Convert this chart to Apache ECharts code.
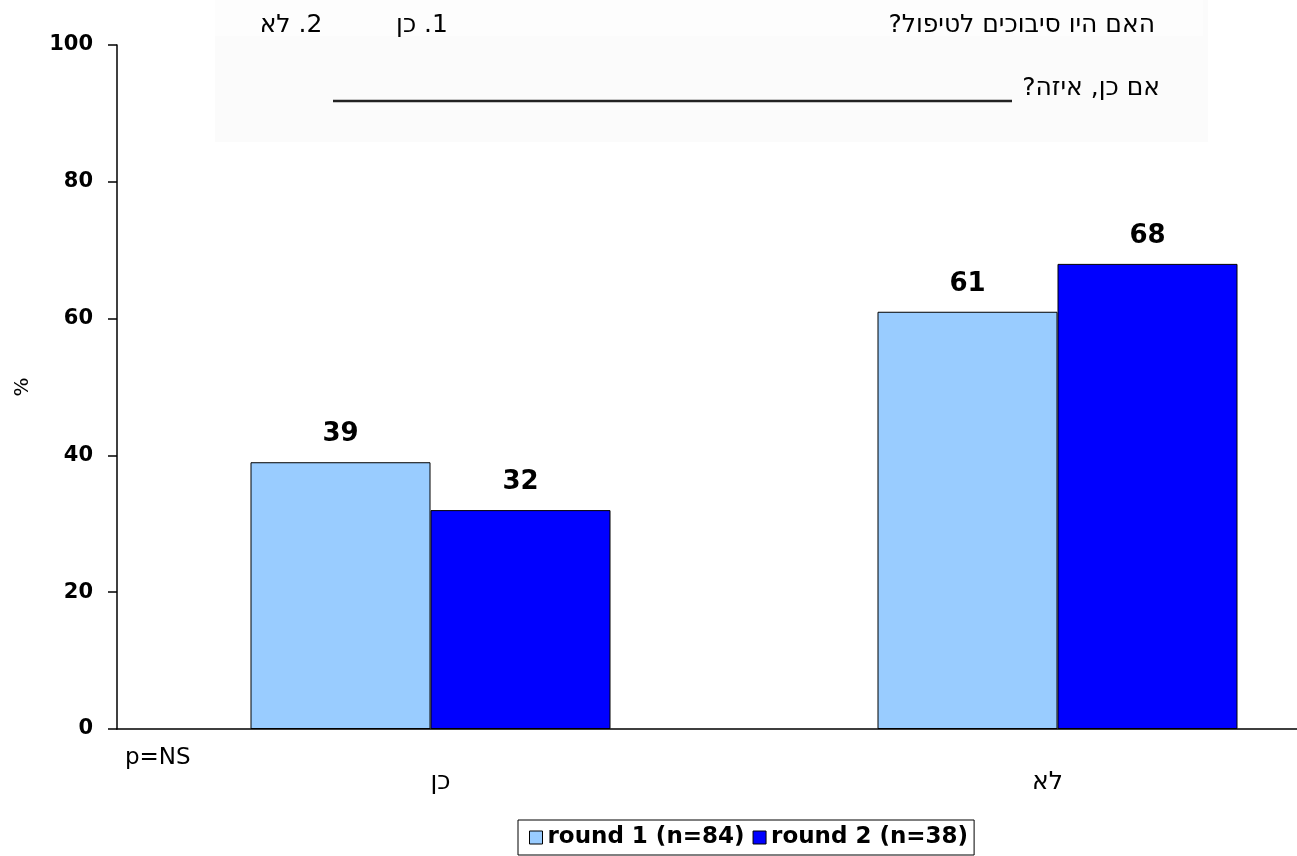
<!DOCTYPE html>
<html>
<head>
<meta charset="utf-8">
<script src="https://cdn.jsdelivr.net/npm/echarts@6/dist/echarts.min.js"></script>
<style>
html,body{margin:0;padding:0;background:#fff;}
#chart{width:1297px;height:856px;}
</style>
</head>
<body>
<div id="chart"></div>
<script>
// ---- data ----
const categories = ['כן', 'לא'];
const seriesNames = ['round 1 (n=84)', 'round 2 (n=38)'];
const round1 = [39, 61];
const round2 = [32, 68];
const yMin = 0, yMax = 100, yStep = 20;
const yAxisName = '%';
const questionText = 'האם היו סיבוכים לטיפול?';
const option1Text = '1. כן';
const option2Text = '2. לא';
const followUpText = 'אם כן, איזה?';
const pValueText = 'p=NS';

// ---- helpers ----
const RLE = '\u202B', PDF = '\u202C';
const rtl = s => RLE + s + PDF;
const FONT = 'DejaVu Sans';
const labelShift = [[0, 0, 0, 20], [0, 20, 0, 0]];

const chart = echarts.init(document.getElementById('chart'), null, {renderer: 'canvas'});

const option = {
  backgroundColor: '#ffffff',
  animation: false,
  textStyle: {fontFamily: FONT},
  grid: {left: 117, top: 45, width: 1254, height: 684, containLabel: false, outerBoundsMode: 'none'},
  legend: {
    data: seriesNames,
    left: 518,
    top: 820,
    orient: 'horizontal',
    icon: 'rect',
    itemWidth: 13,
    itemHeight: 13,
    itemGap: 8,
    padding: [6, 6, 6, 11],
    borderColor: '#000',
    borderWidth: 1,
    backgroundColor: '#fff',
    selectedMode: false,
    itemStyle: {borderColor: '#000', borderWidth: 1},
    textStyle: {fontFamily: FONT, fontSize: 23, fontWeight: 'bold', color: '#000', width: 190, padding: [2, 0, 0, 0]}
  },
  xAxis: {
    type: 'category',
    data: categories.map((c, i) => ({value: c, textStyle: {padding: labelShift[i]}})),
    axisLine: {show: true, lineStyle: {color: '#000', width: 1.5}},
    axisTick: {show: false},
    axisLabel: {margin: 41, fontFamily: FONT, fontSize: 25, color: '#000'},
    splitLine: {show: false}
  },
  yAxis: {
    type: 'value',
    min: yMin, max: yMax, interval: yStep,
    name: yAxisName,
    nameLocation: 'middle',
    nameRotate: 90,
    nameGap: 84,
    nameTextStyle: {fontFamily: FONT, fontSize: 20, color: '#000'},
    axisLine: {show: true, lineStyle: {color: '#000', width: 1.5}},
    axisTick: {show: true, inside: false, length: 9, lineStyle: {color: '#000', width: 1.5}},
    axisLabel: {margin: 24, fontFamily: FONT, fontSize: 21, fontWeight: 'bold', color: '#000'},
    splitLine: {show: false}
  },
  series: [
    {
      name: seriesNames[0], type: 'bar', data: round1,
      barWidth: 180, barGap: '0%',
      itemStyle: {color: '#99ccff', borderColor: '#000', borderWidth: 1},
      label: {show: true, position: 'top', distance: 15, fontFamily: FONT, fontSize: 26, fontWeight: 'bold', color: '#000'}
    },
    {
      name: seriesNames[1], type: 'bar', data: round2,
      barWidth: 180, barGap: '0%',
      itemStyle: {color: '#0000ff', borderColor: '#000', borderWidth: 1},
      label: {show: true, position: 'top', distance: 15, fontFamily: FONT, fontSize: 26, fontWeight: 'bold', color: '#000'}
    }
  ],
  graphic: [
    {type: 'rect', z: -10, shape: {x: 215, y: 0, width: 993, height: 142}, style: {fill: '#fbfbfb'}, silent: true},
    {type: 'rect', z: -9, shape: {x: 215, y: 0, width: 988, height: 36}, style: {fill: '#fdfdfd'}, silent: true},
    {type: 'text', style: {text: rtl(questionText), x: 1155, y: 25, textAlign: 'right', textVerticalAlign: 'middle', font: '25px "DejaVu Sans"', fill: '#000'}},
    {type: 'text', style: {text: rtl(option1Text), x: 422, y: 25, textAlign: 'center', textVerticalAlign: 'middle', font: '25px "DejaVu Sans"', fill: '#000'}},
    {type: 'text', style: {text: rtl(option2Text), x: 291, y: 25, textAlign: 'center', textVerticalAlign: 'middle', font: '25px "DejaVu Sans"', fill: '#000'}},
    {type: 'text', style: {text: rtl(followUpText), x: 1160, y: 88, textAlign: 'right', textVerticalAlign: 'middle', font: '25px "DejaVu Sans"', fill: '#000'}},
    {type: 'line', shape: {x1: 333, y1: 101, x2: 1012, y2: 101}, style: {stroke: '#222', lineWidth: 2.5}},
    {type: 'text', style: {text: pValueText, x: 125, y: 758, textAlign: 'left', textVerticalAlign: 'middle', font: '23px "DejaVu Sans"', fill: '#000'}}
  ]
};
chart.setOption(option);
</script>
</body>
</html>
